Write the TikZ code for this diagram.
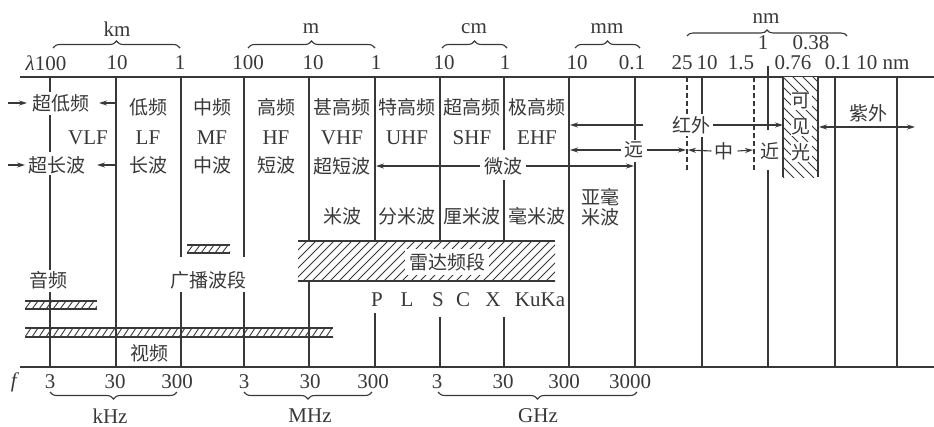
\documentclass[tikz,border=0pt]{standalone}
\usepackage{fontspec}
\setmainfont{Liberation Serif}
\newfontfamily\cjk{Noto Sans CJK SC}
\usetikzlibrary{arrows.meta,decorations.pathreplacing}
\definecolor{ink}{gray}{0.22}
\tikzset{
  ln/.style={draw=ink, line width=1.1pt},
  dln/.style={draw=ink, line width=1.1pt, dash pattern=on 5pt off 3pt},
  lat/.style={text=ink, font=\fontsize{21}{24}\selectfont, inner sep=0pt},
  zh/.style={text=ink, font=\cjk\fontsize{19}{22}\selectfont, inner sep=0pt},
  wbg/.style={fill=white, inner sep=2pt},
  arr/.style={draw=ink, line width=1.1pt, -{Stealth[length=8pt,width=5pt]}},
  darr/.style={draw=ink, line width=1.1pt, {Stealth[length=8pt,width=5pt]}-{Stealth[length=8pt,width=5pt]}},
  brc/.style={draw=ink, line width=1.1pt, decorate, decoration={brace, amplitude=7pt}},
  hatch/.style={draw=ink, line width=0.9pt},
}
\begin{document}
\begin{tikzpicture}[x=1pt,y=-1pt]
\useasboundingbox (0,0) rectangle (934,426);
% axes
\coordinate (tl) at (20,77); \coordinate (tr) at (934,77);
\coordinate (bl) at (20,367); \coordinate (br) at (934,367);
\draw[ln] (tl) -- (tr);
\draw[ln] (bl) -- (br);
% vertical lines
\foreach \x/\a/\b in {50/77/92, 50/115/152, 50/175/270, 50/292/367,
  116/77/367, 181/77/257, 181/292/367, 244/77/257, 244/292/367,
  309/77/367, 375/77/241, 375/313/367, 440/77/241, 440/317/367,
  504/77/150, 504/180/241, 504/317/367, 569/77/367,
  635/77/140, 635/162/367, 702/77/116, 702/137/367,
  768/66/130, 768/170/367, 835/77/367, 897/77/367}
  \draw[ln] (\x,\a) -- (\x,\b);
\draw[dln] (687,77) -- (687,170);
\draw[dln] (754,77) -- (754,170);

% hatched bars
\begin{scope}
  \clip (25,301) rectangle (97,309);
  \foreach \x in {18,25,...,100} \draw[hatch] (\x,309) -- ++(6,-8);
\end{scope}
\draw[ln] (25,301) -- (97,301) (25,309) -- (97,309);
\begin{scope}
  \clip (25,328) rectangle (333,337);
  \foreach \x in {18,25,...,336} \draw[hatch] (\x,337) -- ++(6,-9);
\end{scope}
\draw[ln] (25,328) -- (333,328) (25,337) -- (333,337);
\begin{scope}
  \clip (187,245) rectangle (230,253);
  \foreach \x in {180,187,...,234} \draw[hatch] (\x,253) -- ++(6,-8);
\end{scope}
\draw[ln] (187,245) -- (230,245) (187,253) -- (230,253);
% radar band
\fill[white] (298,241) rectangle (555,281);
\begin{scope}
  \clip (298,241) rectangle (555,281);
  \foreach \x in {258,267,...,560} \draw[hatch] (\x,281) -- ++(40,-40);
\end{scope}
\draw[ln] (298,241) -- (555,241) (298,281) -- (555,281);
\node[zh, fill=white, inner sep=4pt] (radar) at (447,262) {雷达频段};
% visible light
\fill[white] (783,77) rectangle (818,177);
\begin{scope}
  \clip (783,77) rectangle (818,177);
  \foreach \y in {37,47,...,180} \draw[hatch] (783,\y) -- ++(40,40);
\end{scope}
\draw[ln] (783,77) -- (783,177) (818,77) -- (818,177);
\node[zh, fill=white, inner sep=1pt] (v1) at (801,101) {可};
\node[zh, fill=white, inner sep=1pt] (v2) at (801,127) {见};
\node[zh, fill=white, inner sep=1pt] (v3) at (801,152) {光};

% top wavelength numbers
\node[lat] (lam) at (46,63) {\textit{λ}100};
\foreach \x/\t [count=\i] in {117/10, 180/1, 248/100, 313/10, 376/1, 444/10, 505/1,
  577/10, 632/0.1, 682/25, 707/10, 741/1.5, 793/0.76, 838/0.1, 883/10 nm}
  \node[lat] (tn\i) at (\x,63) {\t};
\node[lat] (one) at (763,43) {1};
\node[lat] (p38) at (811,43) {0.38};
% top braces
\draw[brc] (53,48) -- (180,48);
\draw[brc] (248,48) -- (375,48);
\draw[brc] (442,48) -- (507,48);
\draw[brc] (575,48) -- (640,48);
\draw[brc, decoration={amplitude=6pt}] (687,36) -- (847,36);
\node[lat] (km) at (117,29) {km};
\node[lat] (m) at (311,29) {m};
\node[lat] (cm) at (474,29) {cm};
\node[lat] (mm) at (607,29) {mm};
\node[lat] (nm) at (766,19) {nm};

% bottom frequency numbers
\node[lat] (f) at (15,382) {\textit{f}};
\foreach \x/\t [count=\i] in {50/3, 115/30, 177/300, 244/3, 310/30, 373/300,
  437/3, 503/30, 564/300, 630/3000}
  \node[lat] (fn\i) at (\x,382) {\t};
\draw[brc] (177,392) -- (50,392);
\draw[brc] (372,392) -- (244,392);
\draw[brc] (637,392) -- (438,392);
\node[lat] (khz) at (110,416) {kHz};
\node[lat] (mhz) at (310,416) {MHz};
\node[lat] (ghz) at (538,416) {GHz};

% band names
\node[zh] (c1a) at (61,103) {超低频};
\node[lat] (c1b) at (88,138) {VLF};
\node[zh] (c1c) at (57,165) {超长波};
\foreach \x/\a/\b/\c [count=\i] in {148/低频/LF/长波, 212/中频/MF/中波, 276/高频/HF/短波}
{
  \node[zh] (ca\i) at (\x,107) {\a};
  \node[lat] (cb\i) at (\x,138) {\b};
  \node[zh] (cc\i) at (\x,165) {\c};
}
\foreach \x/\a/\b [count=\i] in {342/甚高频/VHF, 407/特高频/UHF, 472/超高频/SHF, 537/极高频/EHF}
{
  \node[zh] (da\i) at (\x,107) {\a};
  \node[lat] (db\i) at (\x,138) {\b};
}
\node[zh] (usw) at (342,166) {超短波};
\foreach \x/\a [count=\i] in {342/米波, 407/分米波, 472/厘米波, 537/毫米波}
  \node[zh] (w\i) at (\x,216) {\a};
\node[zh] (sub1) at (600,197) {亚毫};
\node[zh] (sub2) at (600,217) {米波};
\node[zh] (mw) at (503,166) {微波};
\node[zh] (far) at (634,150) {远};
\node[zh, fill=white, inner sep=2pt] (ir) at (691,125) {红外};
\node[zh] (mid) at (724,151) {中};
\node[zh] (near) at (770,151) {近};
\node[zh] (uv) at (868,113) {紫外};
\node[zh] (aud) at (48,280) {音频};
\node[zh] (bc) at (208,280) {广播波段};
\node[zh] (vid) at (149,353) {视频};
\foreach \x/\t [count=\i] in {377/P, 407/L, 438/S, 463/C, 493/X, 540/KuKa}
  \node[lat] (rb\i) at (\x,300) {\t};

% arrows
\coordinate (a1s) at (8,103);  \coordinate (a1e) at (27,103);
\coordinate (a2s) at (116,103); \coordinate (a2e) at (99,103);
\coordinate (a3s) at (8,165);  \coordinate (a3e) at (25,165);
\coordinate (a4s) at (116,165); \coordinate (a4e) at (97,165);
\draw[arr] (a1s) -- (a1e);
\draw[arr] (a2s) -- (a2e);
\draw[arr] (a3s) -- (a3e);
\draw[arr] (a4s) -- (a4e);
\coordinate (mwl) at (376,166); \coordinate (mwr) at (634,166);
\draw[arr] ([xshift=-4pt]mw.west) -- (mwl);
\draw[arr] ([xshift=4pt]mw.east) -- (mwr);
\coordinate (irl) at (570,125); \coordinate (irm) at (643,125); \coordinate (irr) at (783,125);
\draw[arr] (irm) -- (irl);
\draw[arr] ([xshift=1pt]ir.east) -- (irr);
\coordinate (farl) at (570,150); \coordinate (farr) at (686,150);
\draw[arr] ([xshift=-3pt]far.west) -- (farl);
\draw[arr] ([xshift=3pt]far.east) -- (farr);
\coordinate (midl) at (688,150); \coordinate (midr) at (753,150);
\draw[arr] ([xshift=-3pt]mid.west) -- (midl);
\draw[arr] ([xshift=4pt]mid.east) -- (midr);
\coordinate (uvl) at (819,127); \coordinate (uvr) at (915,127);
\draw[darr] (uvl) -- (uvr);
\end{tikzpicture}
\end{document}
